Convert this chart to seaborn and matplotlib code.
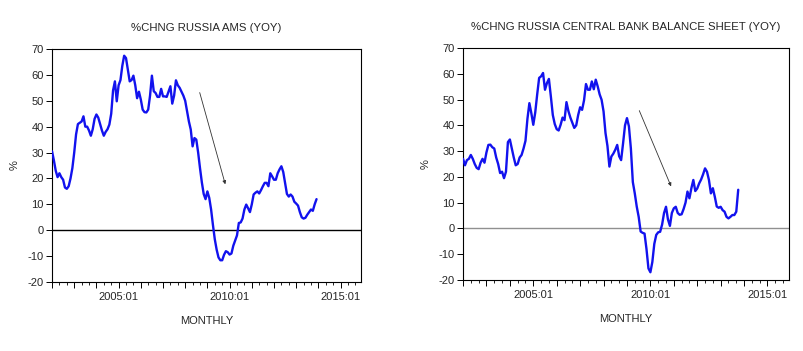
import numpy as np
import pandas as pd
import seaborn as sns
import matplotlib.pyplot as plt
from matplotlib.ticker import FixedLocator, MultipleLocator

# monthly YoY % change, starting 2002:01
ams = [30.5, 27, 23, 20.5, 22, 20.5, 19.5, 16.5, 16, 17, 20, 24,
       30, 37, 41, 41.5, 42, 44, 40, 40, 38.5, 36.5, 39, 43,
       44.7, 43.5, 41, 38.5, 36.5, 38, 39, 40.8, 45, 54, 57.5, 49.8,
       56, 58, 63.5, 67.4, 66.5, 62, 57.5, 58, 59.7, 56, 51, 53.5,
       50.5, 46.6, 45.6, 45.5, 46.6, 52, 59.7, 53.7, 53, 51.5, 51.5, 54.6,
       51.7, 51.7, 51.5, 53.5, 55.6, 48.9, 52, 57.9, 56, 55, 53.5, 52,
       50, 46, 42, 38.9, 32.4, 35.6, 35, 30, 24, 18.5, 14, 12,
       15, 12.5, 8, 2, -3.5, -7.5, -10.5, -11.6, -11.6, -9.5, -8.1, -8.5,
       -9.4, -9, -6, -4, -2, 2.8, 3, 4.5, 8, 9.9, 8.5, 7,
       10, 13.8, 14.5, 15, 14.2, 15.5, 17, 18.3, 18.3, 17, 22, 20.8,
       19.5, 19.5, 22, 23.5, 24.7, 22.5, 18.3, 14, 13, 13.8, 13, 11,
       10.3, 9.5, 7, 5, 4.5, 4.8, 6, 7, 8, 7.5, 10, 12]

cbbs = [27, 24.5, 26.5, 27, 28.5, 27, 25, 23.5, 23, 25.5, 27, 25.5,
        29.5, 32.4, 32.5, 31.5, 31, 27.5, 25, 21.5, 22, 19.5, 22, 33.5,
        34.5, 31, 27.5, 24.5, 25, 27.5, 28.5, 31, 34, 42.5, 48.6, 44.7,
        40.2, 45, 52, 58.4, 59, 60.3, 53.8, 56.4, 58, 51.2, 44, 40.5,
        38.5, 38, 40.2, 43, 42, 49, 45.5, 43, 41, 39, 40, 44,
        47, 46, 49.7, 56, 53.8, 53.8, 57, 54, 57.7, 55.1, 52, 49.9,
        45.4, 37, 32, 24, 27.9, 29, 30.5, 32.4, 28, 26.5, 33, 40,
        42.8, 39.6, 31, 18, 13.6, 8.5, 4.5, -1.2, -1.7, -2, -8, -15.5,
        -17, -13, -6, -2.5, -1.5, -1.3, 1.5, 6, 8.4, 3.5, 1, 6,
        7.8, 8.4, 6, 5.3, 5.5, 7.5, 10, 14.3, 11.7, 15.6, 18.8, 14.5,
        15.5, 17.5, 19, 21, 23.3, 22, 18.8, 13.6, 15.6, 12.3, 8.5, 8,
        8.4, 7.1, 6.5, 4.5, 3.9, 4.5, 5.2, 5.2, 6.5, 15]

titles = ["%CHNG RUSSIA AMS (YOY)", "%CHNG RUSSIA CENTRAL BANK BALANCE SHEET (YOY)"]
yticks = [-20, -10, 0, 10, 20, 30, 40, 50, 60, 70]
xlabel_years = [2005, 2010, 2015]
# arrows: (start year, start value, end year, end value)
arrows = [(2008.62, 54.2, 2009.84, 16.7), (2009.48, 46.7, 2010.93, 15.3)]

sns.set_style("white")
plt.rcParams["font.family"] = ["Liberation Sans", "DejaVu Sans"]

fig = plt.figure(figsize=(8.04, 3.51), dpi=100)
axes = [fig.add_axes([0.0647, 0.1966, 0.3843, 0.6638]),
        fig.add_axes([0.5759, 0.2023, 0.4055, 0.661])]

for ax, vals, title, arr, zc in zip(axes, [ams, cbbs], titles, arrows, ["black", "#909090"]):
    df = pd.DataFrame({"t": 2002 + np.arange(len(vals)) / 12, "v": vals})
    ax.axhline(0, color=zc, lw=1.0, zorder=1)
    sns.lineplot(data=df, x="t", y="v", color="#1212ee", lw=1.7, ax=ax, zorder=3)
    ax.annotate("", xy=(arr[2], arr[3]), xytext=(arr[0], arr[1]),
                arrowprops=dict(arrowstyle="-|>", color="#333333", lw=0.6,
                                mutation_scale=5))
    ax.set_xlim(2002, 2015.92)
    ax.set_ylim(-20, 70)
    ax.yaxis.set_major_locator(FixedLocator(yticks))
    ax.set_yticklabels([str(y) for y in yticks])
    ax.xaxis.set_major_locator(MultipleLocator(1))
    ax.xaxis.set_minor_locator(MultipleLocator(1 / 3))
    ax.set_xticklabels([f"{int(round(x))}:01" if int(round(x)) in xlabel_years else ""
                        for x in ax.get_xticks()])
    ax.tick_params(axis="both", which="major", direction="out", length=4, width=0.7,
                   labelsize=8, pad=2, color="black", bottom=True, left=True)
    ax.tick_params(axis="x", which="minor", direction="out", length=2.5, width=0.6,
                   color="black", bottom=True)
    ax.tick_params(axis="x", which="major", pad=3)
    ax.set_xlabel("MONTHLY", fontsize=8, labelpad=10)
    ax.set_ylabel("%", fontsize=8, labelpad=6)
    ax.set_title(title, fontsize=8.2, pad=13)
    for s in ax.spines.values():
        s.set_color("black")
        s.set_linewidth(0.8)

plt.savefig("out.png", dpi=100)
